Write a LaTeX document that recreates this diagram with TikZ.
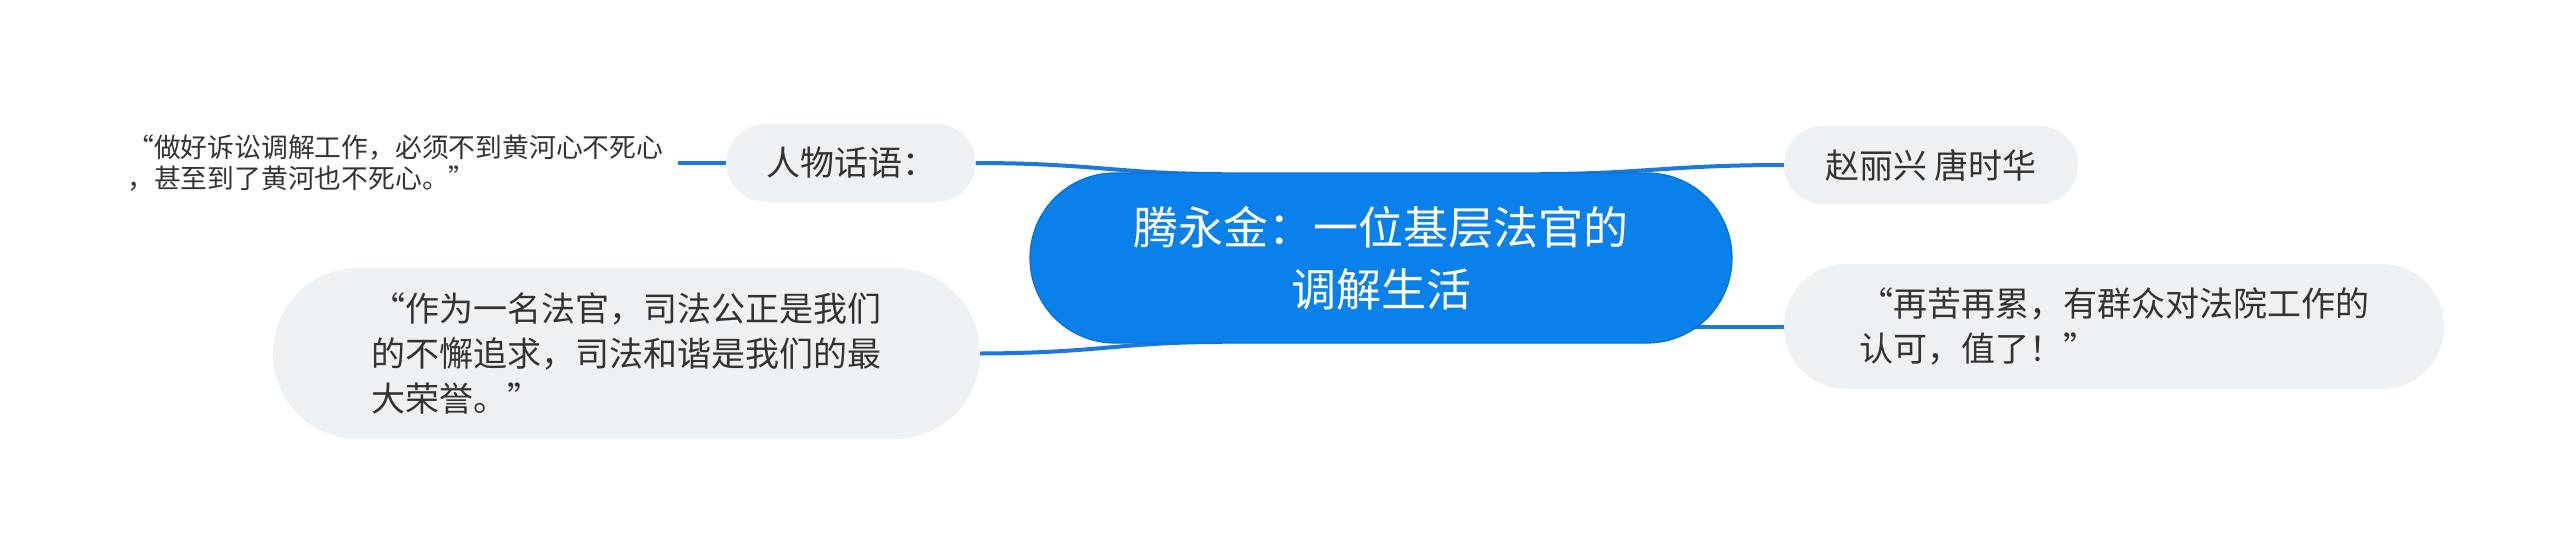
\documentclass[tikz,border=0pt]{standalone}
\usepackage{fontspec}
\setmainfont{Noto Sans CJK SC}
\usetikzlibrary{backgrounds}
\definecolor{cblue}{HTML}{0A80EB}
\definecolor{cborder}{HTML}{0870D4}
\definecolor{lblue}{HTML}{1C78DC}
\definecolor{nfill}{HTML}{EEF1F4}
\definecolor{tdark}{HTML}{333333}
\begin{document}
\begin{tikzpicture}[x=1pt,y=-1pt,
  pill/.style={fill=nfill, text=tdark, inner sep=0pt, font=\fontsize{34}{45}\selectfont},
  conn/.style={draw=lblue, line width=4pt}]
\useasboundingbox (0,0) rectangle (2560,555);

\node[draw=cborder, line width=1.2pt, fill=cblue, text=white, rounded corners=84.9pt,
      minimum width=702pt, minimum height=170pt, inner sep=0pt, align=center,
      font=\fontsize{45}{62}\selectfont] (c) at (1381,258) {腾永金：一位基层法官的\\调解生活};

\node[pill, rounded corners=38.9pt, minimum width=249pt, minimum height=78pt] (a) at (851,163) {人物话语：};

\node[anchor=west, inner sep=0pt, text=tdark, align=left,
      font=\fontsize{26.8}{31}\selectfont] (b) at (127,163)
      {“做好诉讼调解工作，必须不到黄河心不死心\\，甚至到了黄河也不死心。”};

\node[pill, rounded corners=38.9pt, minimum width=294pt, minimum height=78pt] (r1) at (1931,165) {赵丽兴 唐时华};

\node[pill, rounded corners=62pt, minimum width=660pt, minimum height=125pt, align=left] (r2) at (2114,326.5)
      {“再苦再累，有群众对法院工作的\\认可，值了！”};

\node[pill, rounded corners=85pt, minimum width=707pt, minimum height=171pt, align=left] (l2) at (626.5,353.5)
      {“作为一名法官，司法公正是我们\\的不懈追求，司法和谐是我们的最\\大荣誉。”};

\coordinate (ca) at (1222,174);
\coordinate (cb) at (1540,174);
\coordinate (cd) at (1695,326.5);
\coordinate (ce) at (1222,342);

\begin{scope}[on background layer]
  \fill[white] (0,0) rectangle (2560,555);
  \draw[conn] (a.east) .. controls (1090,163) and (1120,174) .. (ca);
  \draw[conn] (r1.west) .. controls (1670,165) and (1640,174) .. (cb);
  \draw[conn] (r2.west) -- (cd);
  \draw[conn] (l2.east) .. controls (1100,353) and (1120,342) .. (ce);
  \draw[conn] (a.west) -- ([xshift=15pt]b.east);
\end{scope}
\end{tikzpicture}
\end{document}
